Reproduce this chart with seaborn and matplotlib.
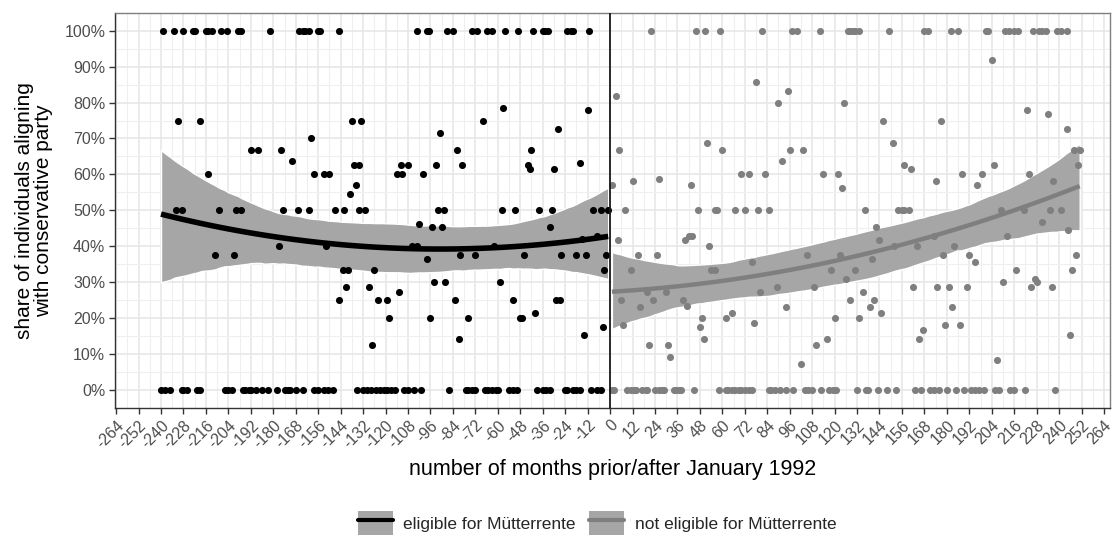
import numpy as np
import pandas as pd
import matplotlib
matplotlib.use("Agg")
import matplotlib.pyplot as plt
from matplotlib.patches import Patch
from matplotlib.lines import Line2D
import seaborn as sns

# ---- data: months relative to January 1992 and share aligning with the conservative party
elig_x_all = [-239, -233, -228, -223, -222, -216, -215, -213, -208, -205, -199, -197, -182,
              -166, -164, -163, -161, -156, -155, -145, -103, -98, -97, -87, -84, -74, -71,
              -66, -63, -56, -49, -41, -36, -35, -33, -23, -21, -20, -11]
elig_x_none = [-240, -238, -235, -229, -228, -226, -221, -219, -206, -204, -202, -196, -195,
               -193, -192, -189, -186, -183, -178, -174, -172, -171, -168, -164, -158, -156,
               -153, -151, -148, -135, -132, -130, -128, -125, -123, -121, -119, -117, -115,
               -110, -108, -105, -101, -86, -77, -76, -74, -72, -67, -65, -63, -61, -60, -54,
               -52, -50, -39, -36, -34, -32, -24, -23, -20, -18, -16, -10, -7, -5]
elig_x_half = [-232, -229, -209, -200, -197, -175, -167, -161, -147, -142, -134, -131, -92,
               -89, -58, -51, -38, -31, -9, -5, -1]
elig_x_other = [-231, -219, -138, -133, -160, -192, -188, -176, -170, -215, -158, -153, -150,
                -137, -136, -139, -57, -68, -12, -91, -28, -82, -42, -134, -112, -108, -93,
                -79, -44, -43, -114, -111, -100, -30, -16, -211, -201, -177, -152, -143, -140,
                -141, -145, -102, -95, -90, -32, -106, -103, -62, -98, -80, -72, -46, -26, -18,
                -13, -2, -15, -7, -126, -3, -129, -124, -119, -113, -118, -96, -127, -88, -94,
                -59, -83, -81, -76, -52, -48, -47, -40, -29, -27, -14, -4]
elig_y_other = [0.75, 0.75, 0.75, 0.75, 0.70, 0.667, 0.667, 0.667, 0.636, 0.60, 0.60, 0.60, 0.60,
                0.625, 0.571, 0.545, 0.786, 0.75, 0.778, 0.714, 0.727, 0.667, 0.667, 0.625,
                0.625, 0.625, 0.625, 0.625, 0.625, 0.615, 0.60, 0.60, 0.60, 0.615, 0.632, 0.375,
                0.375, 0.40, 0.40, 0.333, 0.333, 0.286, 0.25, 0.462, 0.455, 0.455, 0.455, 0.40,
                0.40, 0.40, 0.364, 0.375, 0.375, 0.375, 0.375, 0.375, 0.375, 0.375, 0.42, 0.429,
                0.333, 0.333, 0.286, 0.25, 0.25, 0.273, 0.20, 0.20, 0.125, 0.30, 0.30, 0.30,
                0.25, 0.143, 0.20, 0.25, 0.20, 0.20, 0.214, 0.25, 0.25, 0.154, 0.176]

nonelig_x_all = [22, 46, 51, 59, 81, 97, 100, 112, 127, 128, 130, 131, 133, 149, 168, 170, 182,
                 186, 201, 202, 211, 213, 216, 218, 226, 229, 231, 233, 239, 241, 244]
nonelig_x_none = [1, 2, 9, 11, 13, 14, 17, 19, 20, 24, 26, 28, 29, 34, 35, 37, 38, 45, 58, 62,
                  63, 65, 67, 69, 70, 72, 74, 76, 85, 86, 88, 91, 94, 98, 104, 106, 108, 113,
                  117, 119, 121, 132, 137, 138, 143, 148, 153, 163, 166, 171, 173, 176, 180,
                  185, 189, 193, 195, 197, 200, 206, 208, 214, 216, 222, 238]
nonelig_x_half = [8, 47, 56, 57, 67, 72, 79, 85, 136, 154, 156, 157, 160, 209, 221, 235, 241]
nonelig_x_other = [3, 5, 1, 12, 26, 43, 52, 60, 70, 74, 83, 78, 90, 95, 92, 96, 103, 114, 122,
                   124, 125, 4, 15, 25, 11, 6, 7, 16, 20, 23, 21, 30, 31, 32, 40, 42, 44, 39, 41,
                   53, 54, 56, 49, 48, 50, 62, 65, 76, 77, 80, 89, 94, 102, 105, 109, 110, 116,
                   118, 120, 123, 126, 128, 131, 133, 142, 144, 152, 140, 164, 173, 178, 184,
                   192, 195, 212, 231, 245, 249, 247, 217, 135, 141, 139, 145, 162, 175, 181,
                   191, 210, 225, 227, 228, 236, 183, 179, 187, 165, 167, 207, 246, 204, 146,
                   177, 223, 234, 244, 151, 157, 161, 174, 188, 196, 199, 205, 224, 237, 248,
                   251, 250]
nonelig_y_other = [0.818, 0.667, 0.571, 0.583, 0.588, 0.571, 0.688, 0.667, 0.60, 0.60, 0.60,
                   0.857, 0.80, 0.833, 0.636, 0.667, 0.667, 0.60, 0.60, 0.5625, 0.80, 0.417,
                   0.375, 0.375, 0.333, 0.25, 0.182, 0.231, 0.273, 0.25, 0.125, 0.273, 0.125,
                   0.0909, 0.417, 0.429, 0.429, 0.25, 0.235, 0.40, 0.333, 0.333, 0.20, 0.176,
                   0.143, 0.20, 0.214, 0.357, 0.1875, 0.273, 0.286, 0.231, 0.0714, 0.375, 0.286,
                   0.125, 0.143, 0.333, 0.20, 0.375, 0.308, 0.25, 0.333, 0.20, 0.455, 0.417,
                   0.40, 0.364, 0.40, 0.429, 0.375, 0.40, 0.375, 0.357, 0.429, 0.467, 0.444,
                   0.375, 0.333, 0.333, 0.273, 0.25, 0.231, 0.214, 0.286, 0.286, 0.286, 0.286,
                   0.30, 0.286, 0.308, 0.30, 0.286, 0.231, 0.182, 0.182, 0.143, 0.167, 0.083,
                   0.154, 0.917, 0.75, 0.75, 0.778, 0.769, 0.727, 0.688, 0.625, 0.615, 0.583,
                   0.60, 0.571, 0.60, 0.625, 0.60, 0.583, 0.667, 0.667, 0.625]

group_labels = ["eligible for Mütterrente", "not eligible for Mütterrente"]
x_ticks = list(range(-264, 265, 12))
y_ticks = [0.0, 0.1, 0.2, 0.3, 0.4, 0.5, 0.6, 0.7, 0.8, 0.9, 1.0]
y_tick_labels = ["0%", "10%", "20%", "30%", "40%", "50%", "60%", "70%", "80%", "90%", "100%"]


def build(x_all, x_none, x_half, x_other, y_other, label):
    xs = list(x_all) + list(x_none) + list(x_half) + list(x_other)
    ys = [1.0] * len(x_all) + [0.0] * len(x_none) + [0.5] * len(x_half) + list(y_other)
    return pd.DataFrame({"month": xs, "share": ys, "group": label})


df = pd.concat([
    build(elig_x_all, elig_x_none, elig_x_half, elig_x_other, elig_y_other, group_labels[0]),
    build(nonelig_x_all, nonelig_x_none, nonelig_x_half, nonelig_x_other, nonelig_y_other,
          group_labels[1]),
], ignore_index=True)

# ---- styling
sns.set_theme(style="white")
plt.rcParams["font.family"] = ["Liberation Sans", "DejaVu Sans"]

colors = {group_labels[0]: "#000000", group_labels[1]: "#7f7f7f"}
line_widths = {group_labels[0]: 4.0, group_labels[1]: 3.2}
band_color = "#a6a6a6"

fig = plt.figure(figsize=(11.18, 5.43), dpi=100)
ax = fig.add_axes([115 / 1118, 1 - 408 / 543, (1110 - 115) / 1118, (408 - 12.7) / 543])

for g in group_labels:
    sub = df[df["group"] == g]
    n_before = len(ax.collections)
    sns.regplot(data=sub, x="month", y="share", order=2, ci=95, n_boot=1000, seed=7,
                ax=ax, color=colors[g],
                scatter_kws={"s": 26, "linewidths": 0, "alpha": 1, "zorder": 3},
                line_kws={"lw": line_widths[g], "zorder": 4, "solid_capstyle": "butt"})
    # recolour the confidence ribbon as an opaque grey band under the points
    for coll in ax.collections[n_before:]:
        if coll.__class__.__name__ in ("PolyCollection", "FillBetweenPolyCollection"):
            coll.set_facecolor(band_color)
            coll.set_alpha(1)
            coll.set_zorder(2)

ax.axvline(0, color="#1a1a1a", lw=1.3, zorder=5)

ax.set_xlim(-264.6, 267.2)
ax.set_ylim(-0.05, 1.05)
ax.set_xticks(x_ticks)
ax.set_xticks([t + 6 for t in x_ticks[:-1]], minor=True)
ax.set_xticklabels([str(t) for t in x_ticks], rotation=45, ha="right", va="top",
                   rotation_mode="anchor", color="#4d4d4d", fontsize=11.5)
ax.set_yticks(y_ticks)
ax.set_yticks([v + 0.05 for v in y_ticks[:-1]], minor=True)
ax.set_yticklabels(y_tick_labels, color="#4d4d4d", fontsize=11.5)

ax.grid(True, which="major", color="#e6e6e6", lw=1.1, zorder=0)
ax.grid(True, which="minor", color="#efefef", lw=0.8, zorder=0)
ax.set_axisbelow(True)

ax.tick_params(axis="both", which="major", length=4, width=1, color="#333333",
               direction="out", bottom=True, left=True, pad=3)
ax.tick_params(axis="both", which="minor", length=0)
for side, sp in ax.spines.items():
    sp.set_color("#333333")
    sp.set_linewidth(1.0)
ax.spines["top"].set_color("#7f7f7f")
ax.spines["right"].set_color("#7f7f7f")

ax.set_xlabel("number of months prior/after January 1992", fontsize=15.5, color="black",
              labelpad=6)
ax.set_ylabel("share of individuals aligning\nwith conservative party", fontsize=15,
              color="black", labelpad=8, linespacing=1.0)

handles = [(Patch(facecolor=band_color, edgecolor="none"),
            Line2D([], [], color=colors[g], lw=3.0)) for g in group_labels]
fig.legend(handles, group_labels, loc="center", bbox_to_anchor=(0.534, 0.037), ncol=2,
           frameon=False, fontsize=12.5, handlelength=2.0, handleheight=1.7,
           handletextpad=0.6, columnspacing=0.8)

fig.savefig("out.png", dpi=100)
